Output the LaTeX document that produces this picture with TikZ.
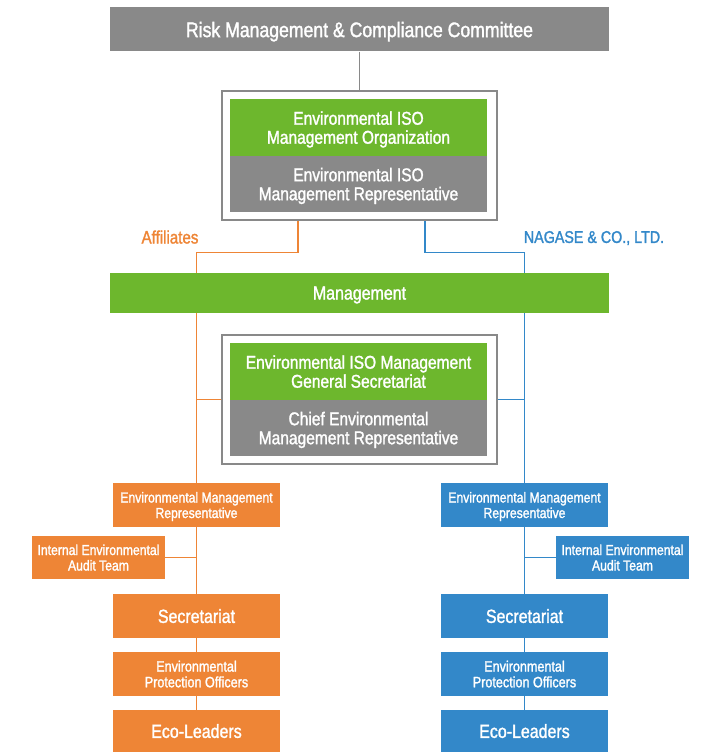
\documentclass[tikz,border=0pt]{standalone}
\usepackage{fontspec}
\setmainfont{Liberation Sans}[FakeStretch=0.84,FakeBold=1.5]
\usetikzlibrary{backgrounds}
\definecolor{cgray}{HTML}{898989}
\definecolor{cgreen}{HTML}{6DB72D}
\definecolor{corange}{HTML}{EE8536}
\definecolor{cblue}{HTML}{3388C9}
\begin{document}
\begin{tikzpicture}[x=1pt,y=-1pt,
  box/.style={rectangle, inner sep=0pt, text=white, align=center, text depth=0pt},
  bigbox/.style={box, minimum width=499pt},
  inbox/.style={box, minimum width=257pt, font=\fontsize{18.5}{19}\selectfont},
  outer/.style={rectangle, draw=cgray, line width=1.3pt, minimum width=275pt, minimum height=129pt, inner sep=0pt},
  colbox/.style={box, minimum width=167pt, minimum height=44pt},
  audbox/.style={box, minimum width=133pt, minimum height=43pt, font=\fontsize{14.5}{15.5}\selectfont},
  small/.style={font=\fontsize{14.5}{15.5}\selectfont},
  mid/.style={font=\fontsize{15}{15.7}\selectfont},
  large/.style={font=\fontsize{19}{21}\selectfont},
  lbl/.style={inner sep=0pt, text depth=0pt, font=\fontsize{18}{21}\selectfont},
  oline/.style={draw=corange, line width=1.4pt},
  bline/.style={draw=cblue, line width=1.4pt},
  gline/.style={draw=cgray, line width=1.4pt}]
\useasboundingbox (0,0) rectangle (707,752);

% top
\node[bigbox, fill=cgray, minimum height=44pt, font=\fontsize{21}{23}\selectfont] (rmc) at (359.5,29.5) {Risk Management \& Compliance Committee};

% first composite box
\node[outer] (org1) at (359.5,155.5) {};
\node[inbox, fill=cgreen, minimum height=57pt] (g1) at (358.5,127.5) {Environmental ISO\\Management Organization};
\node[inbox, fill=cgray, minimum height=56pt] (r1) at (358.5,184) {Environmental ISO\\Management Representative};

% labels
\node[lbl, text=corange] (aff) at (170,237) {Affiliates};
\node[lbl, text=cblue, font=\fontsize{17}{21}\selectfont] (nag) at (594,237) {NAGASE \& CO., LTD.};

% management
\node[bigbox, fill=cgreen, minimum height=40pt, large] (mgmt) at (359.5,293) {Management};

% second composite box
\node[outer] (org2) at (359.5,399.5) {};
\node[inbox, fill=cgreen, minimum height=57pt] (g2) at (358.5,371.5) {Environmental ISO Management\\General Secretariat};
\node[inbox, fill=cgray, minimum height=56pt] (r2) at (358.5,428) {Chief Environmental\\Management Representative};

% left column
\node[colbox, fill=corange, small] (lemr) at (196.5,505) {Environmental Management\\Representative};
\node[audbox, fill=corange] (laud) at (98.5,557.5) {Internal Environmental\\Audit Team};
\node[colbox, fill=corange, large] (lsec) at (196.5,616) {Secretariat};
\node[colbox, fill=corange, mid] (lepo) at (196.5,674) {Environmental\\Protection Officers};
\node[colbox, fill=corange, large, minimum height=42pt] (leco) at (196.5,731) {Eco-Leaders};

% right column
\node[colbox, fill=cblue, small] (remr) at (524.5,505) {Environmental Management\\Representative};
\node[audbox, fill=cblue] (raud) at (622.5,557.5) {Internal Environmental\\Audit Team};
\node[colbox, fill=cblue, large] (rsec) at (524.5,616) {Secretariat};
\node[colbox, fill=cblue, mid] (repo) at (524.5,674) {Environmental\\Protection Officers};
\node[colbox, fill=cblue, large, minimum height=42pt] (reco) at (524.5,731) {Eco-Leaders};

\begin{pgfonlayer}{background}
\draw[gline] (rmc.south) -- (org1.north);
\draw[oline] ([xshift=-61.5pt]org1.south) -- ++(0,32) -| (lemr.north);
\draw[bline] ([xshift=65.5pt]org1.south) -- ++(0,32) -| (remr.north);
\draw[oline] (org2.west) -- (org2.west -| lemr.north);
\draw[bline] (org2.east) -- (org2.east -| remr.north);
\draw[oline] (lemr.south) -- (lsec.north);
\draw[oline] (laud.east) -- (laud.east -| lemr.south);
\draw[oline] (lsec.south) -- (lepo.north);
\draw[oline] (lepo.south) -- (leco.north);
\draw[bline] (remr.south) -- (rsec.north);
\draw[bline] (raud.west) -- (raud.west -| remr.south);
\draw[bline] (rsec.south) -- (repo.north);
\draw[bline] (repo.south) -- (reco.north);
\end{pgfonlayer}
\end{tikzpicture}
\end{document}
